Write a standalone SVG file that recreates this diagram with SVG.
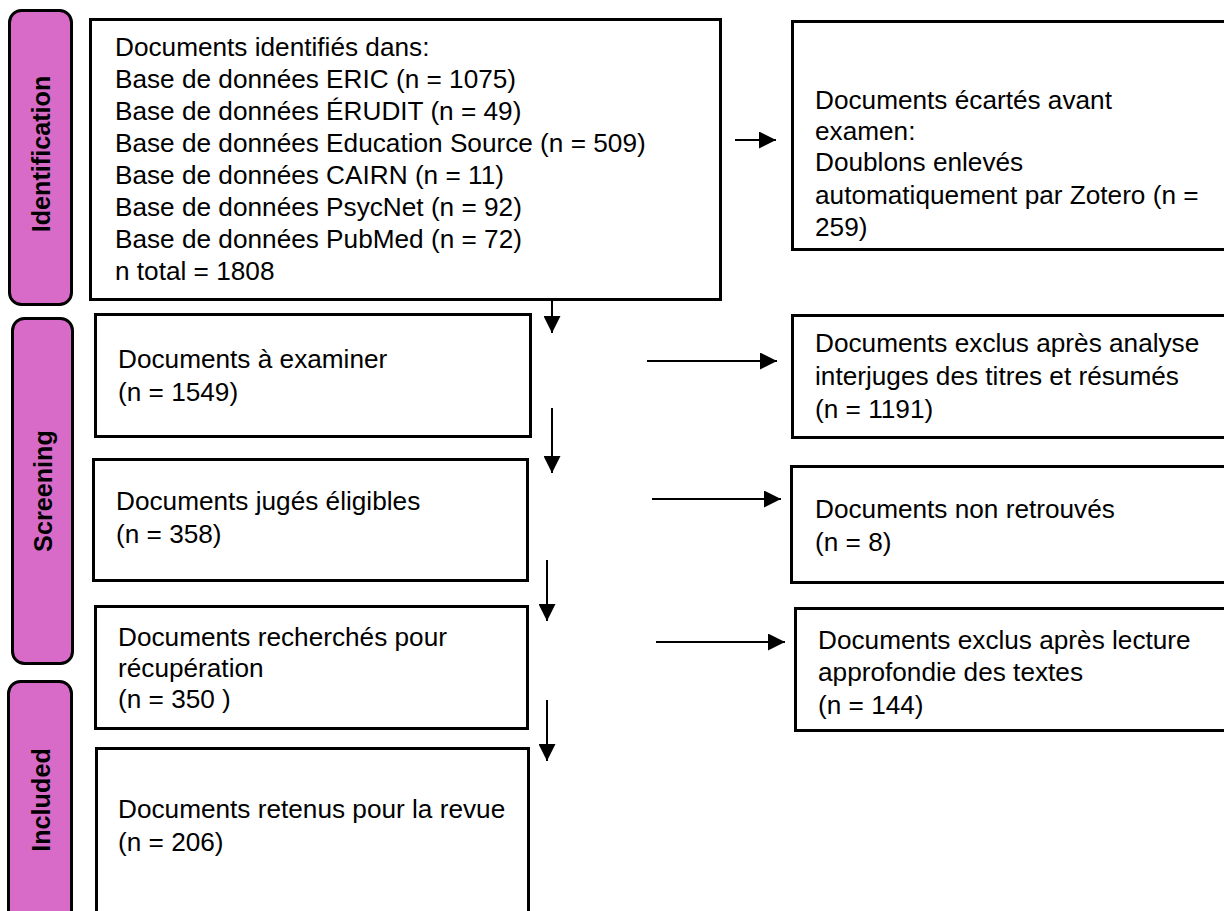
<svg xmlns="http://www.w3.org/2000/svg" width="1224" height="911" viewBox="0 0 1224 911">
<style>
.bg{fill:#ffffff}
.bar{fill:#d96bc8;stroke:#000;stroke-width:3}
.box{fill:#fff;stroke:#000;stroke-width:3}
.lbl{font-family:"Liberation Sans",Arial,sans-serif;font-size:26.2px;fill:#000}
.side{font-family:"Liberation Sans",Arial,sans-serif;font-size:25.2px;font-weight:bold;fill:#000}
.conn{stroke:#000;stroke-width:2;fill:none}
</style>
<defs>
<marker id="ahb" viewBox="0 0 10 10" refX="10" refY="5" markerWidth="17" markerHeight="17" markerUnits="userSpaceOnUse" orient="auto">
<path d="M0,0 L10,5 L0,10 Z" fill="#000"/>
</marker>
</defs>
<rect class="bg" x="0" y="0" width="1224" height="911"/>

<g id="phase-identification">
<rect class="bar" x="9.5" y="10.5" width="62" height="294" rx="12"/>
<text class="side" transform="translate(50,154) rotate(-90)" text-anchor="middle">Identification</text>
</g>
<g id="phase-screening">
<rect class="bar" x="12.5" y="318.5" width="60" height="345" rx="12"/>
<text class="side" transform="translate(52,491) rotate(-90)" text-anchor="middle">Screening</text>
</g>
<g id="phase-included">
<rect class="bar" x="8.5" y="681.5" width="63" height="260" rx="12"/>
<text class="side" transform="translate(50,800) rotate(-90)" text-anchor="middle">Included</text>
</g>

<g id="box-identified">
<rect class="box" x="90.5" y="19.5" width="630" height="280"/>
<text class="lbl" x="115" y="56">Documents identifiés dans:</text>
<text class="lbl" x="115" y="88">Base de données ERIC (n = 1075)</text>
<text class="lbl" x="115" y="120">Base de données ÉRUDIT (n = 49)</text>
<text class="lbl" x="115" y="152">Base de données Education Source (n = 509)</text>
<text class="lbl" x="115" y="184">Base de données CAIRN (n = 11)</text>
<text class="lbl" x="115" y="216">Base de données PsycNet (n = 92)</text>
<text class="lbl" x="115" y="248">Base de données PubMed (n = 72)</text>
<text class="lbl" x="115" y="280">n total = 1808</text>
</g>

<g id="box-removed">
<rect class="box" x="792.5" y="21.5" width="440" height="228"/>
<text class="lbl" x="815" y="109">Documents écartés avant</text>
<text class="lbl" x="815" y="140">examen:</text>
<text class="lbl" x="815" y="171">Doublons enlevés</text>
<text class="lbl" x="815" y="204">automatiquement par Zotero (n =</text>
<text class="lbl" x="815" y="236">259)</text>
</g>

<g id="box-screened">
<rect class="box" x="95.5" y="314.5" width="435" height="122"/>
<text class="lbl" x="118" y="368">Documents à examiner</text>
<text class="lbl" x="118" y="401">(n = 1549)</text>
</g>

<g id="box-excluded-1">
<rect class="box" x="792.5" y="315.5" width="440" height="122"/>
<text class="lbl" x="815" y="352">Documents exclus après analyse</text>
<text class="lbl" x="815" y="385">interjuges des titres et résumés</text>
<text class="lbl" x="815" y="418">(n = 1191)</text>
</g>

<g id="box-eligible">
<rect class="box" x="93.5" y="459.5" width="434" height="121"/>
<text class="lbl" x="116" y="510">Documents jugés éligibles</text>
<text class="lbl" x="116" y="543">(n = 358)</text>
</g>

<g id="box-not-retrieved">
<rect class="box" x="791.5" y="466.5" width="440" height="116"/>
<text class="lbl" x="815" y="518">Documents non retrouvés</text>
<text class="lbl" x="815" y="551">(n = 8)</text>
</g>

<g id="box-sought">
<rect class="box" x="95.5" y="606.5" width="432" height="122"/>
<text class="lbl" x="118" y="646">Documents recherchés pour</text>
<text class="lbl" x="118" y="677">récupération</text>
<text class="lbl" x="118" y="708">(n = 350 )</text>
</g>

<g id="box-excluded-2">
<rect class="box" x="795.5" y="608.5" width="440" height="122"/>
<text class="lbl" x="818" y="649">Documents exclus après lecture</text>
<text class="lbl" x="818" y="681">approfondie des textes</text>
<text class="lbl" x="818" y="714">(n = 144)</text>
</g>

<g id="box-included">
<rect class="box" x="96.5" y="748.5" width="432" height="180"/>
<text class="lbl" x="118" y="818">Documents retenus pour la revue</text>
<text class="lbl" x="118" y="851">(n = 206)</text>
</g>

<g id="connectors">
<line class="conn" x1="735" y1="140" x2="776" y2="140" marker-end="url(#ahb)"/>
<line class="conn" x1="552" y1="301" x2="552" y2="333" marker-end="url(#ahb)"/>
<line class="conn" x1="647" y1="361" x2="777" y2="361" marker-end="url(#ahb)"/>
<line class="conn" x1="552" y1="408" x2="552" y2="473" marker-end="url(#ahb)"/>
<line class="conn" x1="652" y1="499" x2="781" y2="499" marker-end="url(#ahb)"/>
<line class="conn" x1="547" y1="560" x2="547" y2="621" marker-end="url(#ahb)"/>
<line class="conn" x1="656" y1="642" x2="785" y2="642" marker-end="url(#ahb)"/>
<line class="conn" x1="547" y1="700" x2="547" y2="761" marker-end="url(#ahb)"/>
</g>
</svg>
